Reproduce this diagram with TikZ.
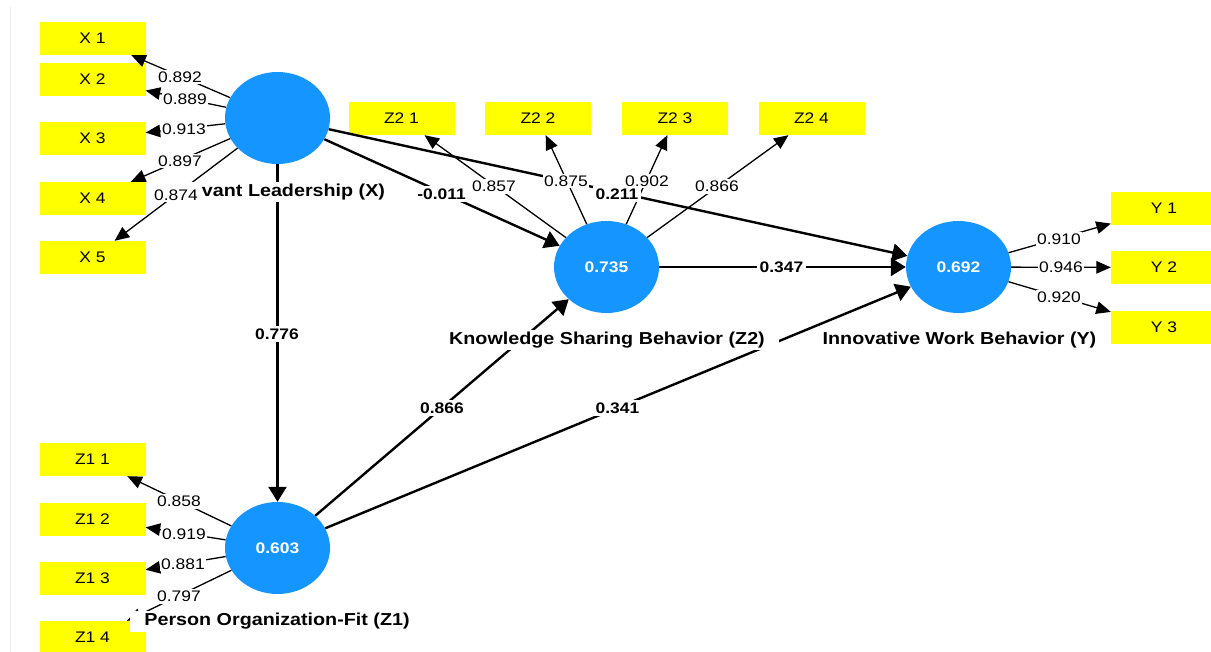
\documentclass[tikz,border=0pt]{standalone}
\usepackage{fontspec}
\setmainfont{Liberation Sans}[FakeStretch=1.14]
\usetikzlibrary{shapes.geometric,arrows.meta}
\definecolor{lvblue}{RGB}{21,149,255}
\definecolor{mvyellow}{RGB}{255,255,0}
\definecolor{edgegray}{RGB}{236,236,236}

\tikzset{
  latent/.style={ellipse, fill=lvblue, minimum width=105pt, minimum height=92pt,
    inner sep=0pt, text=white, font=\fontsize{15.3}{16}\selectfont\bfseries},
  indicator/.style={rectangle, fill=mvyellow, minimum width=106pt, minimum height=33pt,
    inner sep=0pt, font=\fontsize{15.3}{16}\selectfont},
  structarrow/.style={line width=2.4pt, -{Triangle[length=15pt,width=18pt]}},
  loadarrow/.style={line width=1.3pt, -{Triangle[length=14.5pt,width=12.5pt]}},
  lval/.style={fill=white, inner xsep=1.5pt, inner ysep=2pt,
    font=\fontsize{15.3}{16}\selectfont},
  pcoef/.style={fill=white, inner xsep=3pt, inner ysep=3pt,
    font=\fontsize{15.3}{16}\selectfont\bfseries},
  lvname/.style={fill=white, inner xsep=14pt, inner ysep=2pt,
    font=\fontsize{17.3}{18}\selectfont\bfseries},
}

\begin{document}
\begin{tikzpicture}[x=1pt,y=-1pt]
\useasboundingbox (0,0) rectangle (1211,652);
\clip (0,0) rectangle (1211,652);
\fill[white] (0,0) rectangle (1211,652);
\draw[edgegray, line width=1pt] (10.5,7) -- (10.5,652);

% indicator boxes
\node[indicator] (X1) at (92.5,38.5) {X 1};
\node[indicator] (X2) at (92.5,79.5) {X 2};
\node[indicator] (X3) at (92.5,138.5) {X 3};
\node[indicator] (X4) at (92.5,198.5) {X 4};
\node[indicator] (X5) at (92.5,257.5) {X 5};

\node[indicator] (Z11) at (92.5,459.5) {Z1 1};
\node[indicator] (Z12) at (92.5,519) {Z1 2};
\node[indicator] (Z13) at (92.5,578.5) {Z1 3};
\node[indicator] (Z14) at (92.5,637.5) {Z1 4};

\node[indicator] (Z21) at (401.5,118.5) {Z2 1};
\node[indicator] (Z22) at (538,118.5) {Z2 2};
\node[indicator] (Z23) at (675,118.5) {Z2 3};
\node[indicator] (Z24) at (811.5,118.5) {Z2 4};

\node[indicator] (Y1) at (1164,208.5) {Y 1};
\node[indicator] (Y2) at (1164,267.5) {Y 2};
\node[indicator] (Y3) at (1164,327.5) {Y 3};

% latent variables
\node[latent] (X) at (277.5,118) {};
\node[latent] (Z1) at (277.5,548) {0.603};
\node[latent] (Z2) at (606.5,267) {0.735};
\node[latent] (Y) at (958.5,267) {0.692};

% outer loadings
\foreach \i in {1,...,5} \draw[loadarrow] (X) -- (X\i);
\foreach \i in {1,...,4} \draw[loadarrow] (Z1) -- (Z1\i);
\foreach \i in {1,...,4} \draw[loadarrow] (Z2) -- (Z2\i);
\foreach \i in {1,...,3} \draw[loadarrow] (Y) -- (Y\i);

% structural paths
\draw[structarrow] (X) -- (Z1);
\draw[structarrow] (X) -- (Z2);
\draw[structarrow] (X) -- (Y);
\draw[structarrow] (Z1) -- (Z2);
\draw[structarrow] (Z1) -- (Y);
\draw[structarrow] (Z2) -- (Y);

% latent variable names (the first one keeps a blank lead-in on its white plate)
\node[lvname] (nX) at (279.5,192) {\hspace*{28pt}vant Leadership (X)};
\node[lvname] (nZ2) at (607,340) {Knowledge Sharing Behavior (Z2)};
\node[lvname] (nY) at (959.5,340) {Innovative Work Behavior (Y)};
\node[lvname] (nZ1) at (277,621.5) {Person Organization-Fit (Z1)};

% loading values
\node[lval] (lX1) at (180,77) {0.892};
\node[lval] (lX2) at (185,99) {0.889};
\node[lval] (lX3) at (184,129) {0.913};
\node[lval] (lX4) at (180,161) {0.897};
\node[lval] (lX5) at (176,195) {0.874};

\node[lval] (lZ11) at (179,501.5) {0.858};
\node[lval] (lZ12) at (184,534) {0.919};
\node[lval] (lZ13) at (183,564) {0.881};
\node[lval] (lZ14) at (179,596.5) {0.797};

\node[lval] (lZ21) at (494,186.5) {0.857};
\node[lval] (lZ22) at (566,181) {0.875};
\node[lval] (lZ23) at (647,181) {0.902};
\node[lval] (lZ24) at (717,186.5) {0.866};

\node[lval] (lY1) at (1059,239) {0.910};
\node[lval] (lY2) at (1061,267.5) {0.946};
\node[lval] (lY3) at (1059,297) {0.920};

% path coefficients
\node[pcoef] (pXZ1) at (277,334) {0.776};
\node[pcoef] (pXZ2) at (441.5,194) {-0.011};
\node[pcoef] (pXY) at (617,194) {0.211};
\node[pcoef] (pZ1Z2) at (442,408) {0.866};
\node[pcoef] (pZ1Y) at (617.5,408) {0.341};
\node[pcoef] (pZ2Y) at (781.5,267.5) {0.347};
\end{tikzpicture}
\end{document}
